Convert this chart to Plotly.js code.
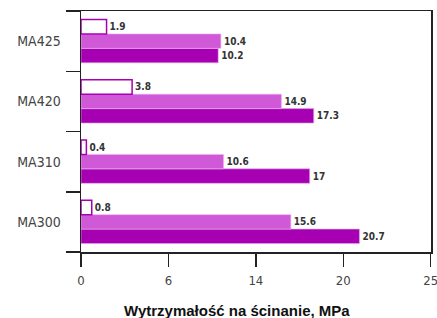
<!DOCTYPE html>
<html>
<head>
<meta charset="utf-8">
<script src="https://cdn.plot.ly/plotly-3.0.1.min.js"></script>
<style>html,body{margin:0;padding:0;background:#fff;}#chart{width:437px;height:318px;}</style>
</head>
<body>
<div id="chart"></div>
<script>
const categories = ['MA300', 'MA310', 'MA420', 'MA425'];
const seriesDark = [20.7, 17, 17.3, 10.2];
const seriesLight = [15.6, 10.6, 14.9, 10.4];
const seriesOutline = [0.8, 0.4, 3.8, 1.9];
const xTickText = ['0', '6', '14', '20', '25'];
const xAxisTitle = 'Wytrzymałość na ścinanie, MPa';
const xMax = 26;

const narrow = 'DejaVu Sans Condensed, Liberation Sans Narrow, Liberation Sans, Arial';
const labelFont = {family: narrow, size: 10, color: '#333', weight: 'bold'};
function fmt(v) { return String(v); }

function barTrace(vals, name, marker) {
  return {type: 'bar', orientation: 'h', y: categories, x: vals, name: name, marker: marker,
    text: vals.map(fmt), textposition: 'outside', textfont: labelFont,
    constraintext: 'none', cliponaxis: false, hoverinfo: 'skip'};
}

const traces = [
  barTrace(seriesDark, 'dark', {color: '#a600b2', line: {color: '#e3a6e8', width: 0.6}}),
  barTrace(seriesLight, 'light', {color: '#d059d8', line: {color: '#eab4ee', width: 0.6}}),
  barTrace(seriesOutline, 'outline', {color: '#ffffff', line: {color: '#a600b2', width: 1.5}})
];

const tickVals = xTickText.map((t, i) => i * xMax / (xTickText.length - 1));

const layout = {
  width: 437, height: 318,
  margin: {l: 81, r: 6, t: 11, b: 66, pad: 0},
  paper_bgcolor: '#fff', plot_bgcolor: '#fff',
  showlegend: false,
  barmode: 'group', bargap: 0.28, bargroupgap: 0,
  xaxis: {
    range: [0, xMax + 0.02], tickmode: 'array', tickvals: tickVals, ticktext: xTickText,
    showgrid: false, zeroline: false,
    showline: true, linecolor: '#222', linewidth: 1.5, mirror: true,
    ticks: 'outside', ticklen: 13, tickwidth: 1.5, tickcolor: '#222',
    ticklabeloverflow: 'allow', ticklabelstandoff: 3,
    tickfont: {family: narrow, size: 13, color: '#444'}
  },
  yaxis: {
    type: 'category', categoryorder: 'array', categoryarray: categories,
    showgrid: false, zeroline: false,
    showline: true, linecolor: '#222', linewidth: 1.5, mirror: true,
    ticks: 'outside', tickson: 'boundaries', ticklen: 14, tickwidth: 1.5, tickcolor: '#222',
    ticklabelstandoff: 16,
    tickfont: {family: narrow, size: 14, color: '#444'}
  },
  annotations: [{
    text: '<b>' + xAxisTitle + '</b>', xref: 'paper', yref: 'paper',
    x: 0.445, y: 0, yshift: -58, xanchor: 'center', yanchor: 'middle', showarrow: false,
    font: {family: 'Liberation Sans, Arial', size: 15, color: '#111'}
  }]
};

Plotly.newPlot('chart', traces, layout, {displayModeBar: false, staticPlot: true});
</script>
</body>
</html>
